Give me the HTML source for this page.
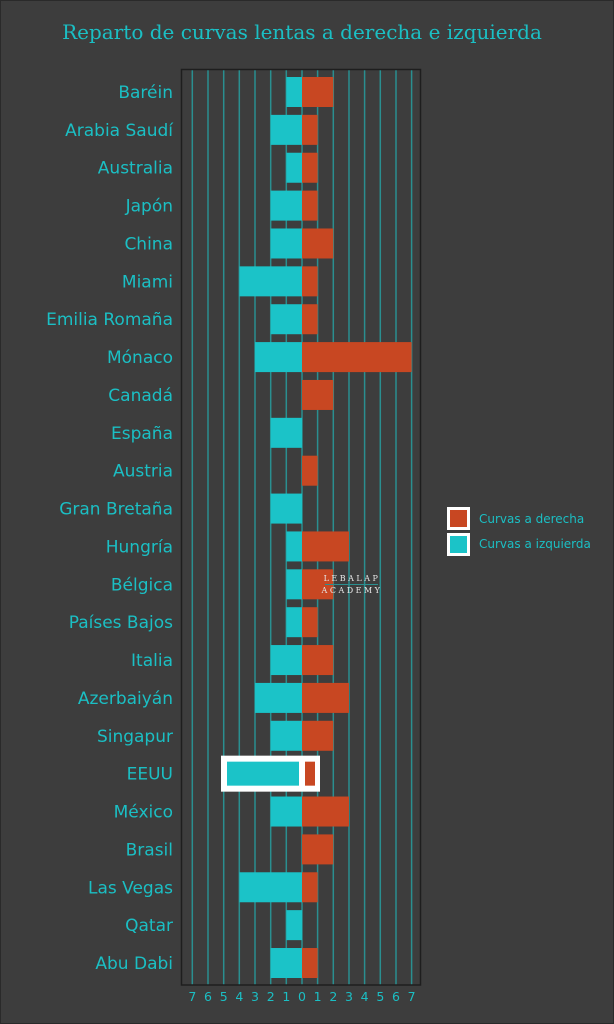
<!DOCTYPE html>
<html><head><meta charset="utf-8"><style>
html,body{margin:0;padding:0;background:#3d3d3d;}
svg{display:block}
</style></head><body>
<svg width="614" height="1024" viewBox="0 0 614 1024" xmlns="http://www.w3.org/2000/svg">
<rect x="0.5" y="0.5" width="613" height="1023" fill="#3d3d3d" stroke="#2a2a2a"/>
<text x="302" y="39" text-anchor="middle" font-family="DejaVu Serif, Liberation Serif, serif" font-size="20" fill="#1bbfc4">Reparto de curvas lentas a derecha e izquierda</text>
<g stroke="#2a8f90" stroke-width="1.5">
<line x1="192.3" y1="70" x2="192.3" y2="985"/><line x1="208" y1="70" x2="208" y2="985"/><line x1="223.7" y1="70" x2="223.7" y2="985"/><line x1="239.3" y1="70" x2="239.3" y2="985"/><line x1="255" y1="70" x2="255" y2="985"/><line x1="270.7" y1="70" x2="270.7" y2="985"/><line x1="286.3" y1="70" x2="286.3" y2="985"/><line x1="302" y1="70" x2="302" y2="985"/><line x1="317.6" y1="70" x2="317.6" y2="985"/><line x1="333.3" y1="70" x2="333.3" y2="985"/><line x1="349" y1="70" x2="349" y2="985"/><line x1="364.6" y1="70" x2="364.6" y2="985"/><line x1="380.3" y1="70" x2="380.3" y2="985"/><line x1="396" y1="70" x2="396" y2="985"/><line x1="411.6" y1="70" x2="411.6" y2="985"/>
</g>
<rect x="181.5" y="69.5" width="239" height="915.5" fill="none" stroke="#1e1e1e" stroke-width="1.5"/>
<g id="bars"></g>
<g id="labels" font-family="DejaVu Sans, Liberation Sans, sans-serif" font-size="17" fill="#1bbfc4" text-anchor="end"></g>
<g font-family="DejaVu Sans, Liberation Sans, sans-serif" font-size="12.5" fill="#1bbfc4" text-anchor="middle">
<text x="192.3" y="1001">7</text><text x="208" y="1001">6</text><text x="223.7" y="1001">5</text><text x="239.3" y="1001">4</text><text x="255" y="1001">3</text><text x="270.7" y="1001">2</text><text x="286.3" y="1001">1</text><text x="302" y="1001">0</text><text x="317.6" y="1001">1</text><text x="333.3" y="1001">2</text><text x="349" y="1001">3</text><text x="364.6" y="1001">4</text><text x="380.3" y="1001">5</text><text x="396" y="1001">6</text><text x="411.6" y="1001">7</text>
</g>
<rect x="448.5" y="508.5" width="20" height="20" fill="#c84722" stroke="#fff" stroke-width="3"/>
<rect x="448.5" y="534.5" width="20" height="20" fill="#1bc3c8" stroke="#fff" stroke-width="3"/>
<g font-family="DejaVu Sans, Liberation Sans, sans-serif" font-size="12" fill="#1bbfc4">
<text x="479" y="523">Curvas a derecha</text><text x="479" y="548">Curvas a izquierda</text>
</g>
<g font-family="DejaVu Serif, Liberation Serif, serif" font-size="8" fill="#e8e8e8" text-anchor="middle" letter-spacing="2.5">
<text x="352" y="581">LEBALAP</text><text x="352" y="593">ACADEMY</text>
</g>
<line x1="325" y1="584.5" x2="378" y2="584.5" stroke="#2a8f90" stroke-width="1"/>
<script>
var d=[["Baréin",1,2],["Arabia Saudí",2,1],["Australia",1,1],["Japón",2,1],["China",2,2],["Miami",4,1],["Emilia Romaña",2,1],["Mónaco",3,7],["Canadá",0,2],["España",2,0],["Austria",0,1],["Gran Bretaña",2,0],["Hungría",1,3],["Bélgica",1,2],["Países Bajos",1,1],["Italia",2,2],["Azerbaiyán",3,3],["Singapur",2,2],["EEUU",5,1],["México",2,3],["Brasil",0,2],["Las Vegas",4,1],["Qatar",1,0],["Abu Dabi",2,1]];
var ns="http://www.w3.org/2000/svg",b=document.getElementById("bars"),l=document.getElementById("labels"),u=15.66,z=302;
function r(x,y,w,h,f){var e=document.createElementNS(ns,"rect");e.setAttribute("x",x);e.setAttribute("y",y);e.setAttribute("width",w);e.setAttribute("height",h);e.setAttribute("fill",f);b.appendChild(e);}
d.forEach(function(v,i){var c=92+i*37.87;
var t=document.createElementNS(ns,"text");t.setAttribute("x",173);t.setAttribute("y",c+6);t.textContent=v[0];l.appendChild(t);
if(v[0]=="EEUU"){r(221,c-18,99,36,"#fff");r(227,c-12,72,24,"#1bc3c8");r(305,c-12,10,24,"#c84722");return;}
if(v[1])r(z-v[1]*u,c-15,v[1]*u,30,"#1bc3c8");
if(v[2])r(z,c-15,v[2]*u,30,"#c84722");});
</script>
</svg>
</body></html>
